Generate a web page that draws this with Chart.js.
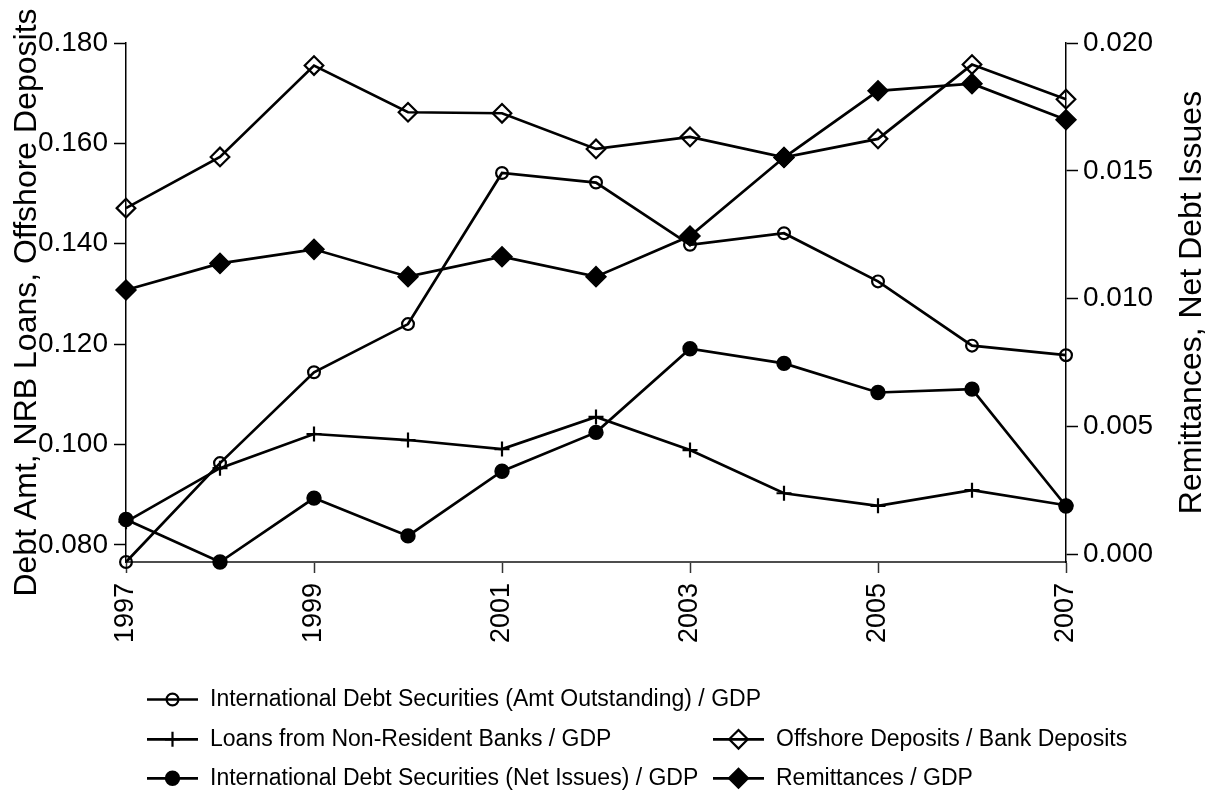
<!DOCTYPE html>
<html>
<head>
<meta charset="utf-8">
<title>Capital flows / GDP</title>
<script src="https://cdn.jsdelivr.net/npm/chart.js@4.4.1/dist/chart.umd.min.js"></script>
<style>
  html, body { margin: 0; padding: 0; background: #fff; }
  canvas { display: block; }
</style>
</head>
<body>
<canvas id="myChart" width="1210" height="794"></canvas>
<script>
// data
const years = [1997, 1998, 1999, 2000, 2001, 2002, 2003, 2004, 2005, 2006, 2007];
const yearTicks = [1997, 1999, 2001, 2003, 2005, 2007];

// left axis series
const amtOutstanding   = [0.0766, 0.0963, 0.1144, 0.1240, 0.1541, 0.1522, 0.1398, 0.1421, 0.1325, 0.1197, 0.1178];
const loansNRB         = [0.0846, 0.0953, 0.1021, 0.1009, 0.0991, 0.1055, 0.0989, 0.0903, 0.0878, 0.0909, 0.0879];
const offshoreDeposits = [0.1471, 0.1573, 0.1755, 0.1662, 0.1660, 0.1589, 0.1613, 0.1572, 0.1609, 0.1757, 0.1688];

// right axis series
const netIssues   = [0.00136, -0.0003, 0.00220, 0.00072, 0.00325, 0.00477, 0.00804, 0.00747, 0.00633, 0.00646, 0.00189];
const remittances = [0.01034, 0.01138, 0.01193, 0.01086, 0.01164, 0.01086, 0.01245, 0.01552, 0.01813, 0.01841, 0.01700];

const leftTicks  = [0.080, 0.100, 0.120, 0.140, 0.160, 0.180];
const rightTicks = [0.000, 0.005, 0.010, 0.015, 0.020];

const leftTitle  = 'Debt Amt, NRB Loans, Offshore Deposits';
const rightTitle = 'Remittances, Net Debt Issues';

const FONT = '"Liberation Sans", Arial, Helvetica, sans-serif';

function toPoints(values) {
    return years.map((yr, i) => ({ x: yr, y: values[i] }));
}

function series(label, values, axis, style, radius, filled, slot) {
    return {
        label: label,
        data: toPoints(values),
        yAxisID: axis,
        borderColor: '#000',
        borderWidth: 2.7,
        tension: 0,
        clip: false,
        pointStyle: style,
        pointRadius: radius,
        pointHoverRadius: radius,
        pointBorderWidth: style === 'rectRot' && filled ? 1.5 : 2.2,
        pointBorderColor: '#000',
        pointBackgroundColor: filled ? '#000' : 'rgba(0,0,0,0)',
        legendSlot: slot,
        markerFilled: filled
    };
}

function drawMarker(ctx, style, x, y, r, filled, bw) {
    ctx.beginPath();
    if (style === 'circle') {
        ctx.arc(x, y, r, 0, Math.PI * 2);
    } else if (style === 'rectRot') {
        ctx.moveTo(x, y - r);
        ctx.lineTo(x + r, y);
        ctx.lineTo(x, y + r);
        ctx.lineTo(x - r, y);
        ctx.closePath();
    } else if (style === 'cross') {
        ctx.moveTo(x, y - r);
        ctx.lineTo(x, y + r);
        ctx.moveTo(x - r, y);
        ctx.lineTo(x + r, y);
    }
    ctx.lineWidth = bw;
    ctx.strokeStyle = '#000';
    if (filled) {
        ctx.fillStyle = '#000';
        ctx.fill();
    }
    ctx.stroke();
}

// Stata-like legend: line with marker, laid out in rows / columns
const stataLegend = {
    id: 'stataLegend',
    afterDraw(chart, args, opts) {
        const ctx = chart.ctx;
        ctx.save();
        ctx.font = opts.fontSize + 'px ' + FONT;
        ctx.textBaseline = 'middle';
        ctx.textAlign = 'left';
        chart.data.datasets.forEach(ds => {
            const [row, col] = ds.legendSlot;
            const x0 = opts.cols[col];
            const y = opts.rows[row];
            ctx.beginPath();
            ctx.moveTo(x0, y);
            ctx.lineTo(x0 + opts.lineLen, y);
            ctx.lineWidth = 2.7;
            ctx.strokeStyle = '#000';
            ctx.stroke();
            drawMarker(ctx, ds.pointStyle, x0 + opts.lineLen / 2, y, ds.pointRadius, ds.markerFilled, ds.pointBorderWidth);
            ctx.fillStyle = '#000';
            ctx.fillText(ds.label, x0 + opts.lineLen + opts.textGap, y);
        });
        ctx.restore();
    }
};

// right axis title reads bottom to top, like the left one
const rightAxisTitle = {
    id: 'rightAxisTitle',
    afterDraw(chart, args, opts) {
        const { ctx, chartArea } = chart;
        const scale = chart.scales.yR;
        ctx.save();
        ctx.translate(scale.right - opts.offset, (chartArea.top + chartArea.bottom) / 2);
        ctx.rotate(-Math.PI / 2);
        ctx.font = opts.fontSize + 'px ' + FONT;
        ctx.textAlign = 'center';
        ctx.textBaseline = 'middle';
        ctx.fillStyle = '#000';
        ctx.fillText(opts.text, 0, 0);
        ctx.restore();
    }
};

const axisGrid = {
    display: true,
    drawOnChartArea: false,
    drawTicks: true,
    tickLength: 12,
    tickWidth: 1.5,
    tickColor: '#000'
};

const ctx = document.getElementById('myChart').getContext('2d');

new Chart(ctx, {
    type: 'line',
    data: {
        datasets: [
            series('International Debt Securities (Amt Outstanding) / GDP', amtOutstanding, 'yL', 'circle', 5.9, false, [0, 0]),
            series('Loans from Non-Resident Banks / GDP', loansNRB, 'yL', 'cross', 7.5, false, [1, 0]),
            series('International Debt Securities (Net Issues) / GDP', netIssues, 'yR', 'circle', 6.6, true, [2, 0]),
            series('Offshore Deposits / Bank Deposits', offshoreDeposits, 'yL', 'rectRot', 9.3, false, [1, 1]),
            series('Remittances / GDP', remittances, 'yR', 'rectRot', 10, true, [2, 1])
        ]
    },
    options: {
        responsive: false,
        animation: false,
        events: [],
        layout: { padding: { top: 43, left: 0, right: 0, bottom: 0 } },
        plugins: {
            legend: { display: false },
            tooltip: { enabled: false },
            stataLegend: {
                rows: [699.5, 739.3, 778.3],
                cols: [147, 713],
                lineLen: 51,
                textGap: 12,
                fontSize: 23
            },
            rightAxisTitle: { text: rightTitle, offset: 18, fontSize: 32 }
        },
        scales: {
            x: {
                type: 'linear',
                min: years[0],
                max: years[years.length - 1],
                offset: false,
                afterBuildTicks: s => { s.ticks = yearTicks.map(v => ({ value: v })); },
                afterFit: s => { s.height = 232; },
                ticks: {
                    autoSkip: false,
                    minRotation: 90,
                    maxRotation: 90,
                    padding: 10,
                    color: '#000',
                    font: { family: FONT, size: 27 },
                    callback: v => String(v)
                },
                grid: Object.assign({}, axisGrid, { tickLength: 11, tickColor: '#333' }),
                border: { display: true, color: '#4d4d4d', width: 2 }
            },
            yL: {
                type: 'linear',
                position: 'left',
                min: Math.min(...amtOutstanding, ...loansNRB, ...offshoreDeposits),
                max: leftTicks[leftTicks.length - 1],
                afterBuildTicks: s => { s.ticks = leftTicks.map(v => ({ value: v })); },
                afterFit: s => { s.width = 126; },
                ticks: {
                    padding: 6,
                    color: '#000',
                    font: { family: FONT, size: 28 },
                    callback: v => v.toFixed(3)
                },
                grid: axisGrid,
                border: { display: true, color: '#000', width: 1.5 },
                title: {
                    display: true,
                    text: leftTitle,
                    color: '#000',
                    font: { family: FONT, size: 32 },
                    padding: { top: 8, bottom: 0 }
                }
            },
            yR: {
                type: 'linear',
                position: 'right',
                min: Math.min(...netIssues, ...remittances),
                max: rightTicks[rightTicks.length - 1],
                afterBuildTicks: s => { s.ticks = rightTicks.map(v => ({ value: v })); },
                afterFit: s => { s.width = 144; },
                ticks: {
                    padding: 5,
                    color: '#000',
                    font: { family: FONT, size: 28 },
                    callback: v => v.toFixed(3)
                },
                grid: axisGrid,
                border: { display: true, color: '#000', width: 1.5 }
            }
        }
    },
    plugins: [stataLegend, rightAxisTitle]
});
</script>
</body>
</html>
